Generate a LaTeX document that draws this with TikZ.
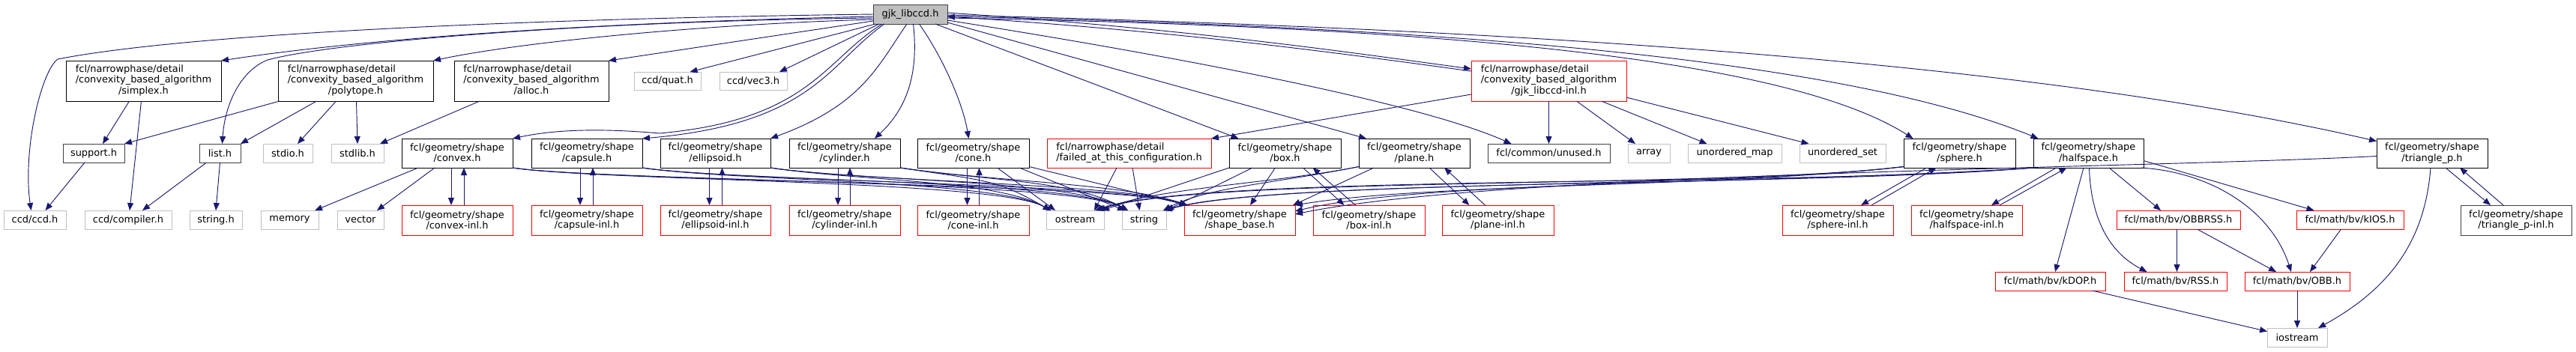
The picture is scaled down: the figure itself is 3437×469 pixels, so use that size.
\documentclass[tikz,border=0pt]{standalone}
\usepackage{fontspec}
\setmainfont{DejaVu Sans}
\usetikzlibrary{arrows.meta,calc}
\definecolor{edgeblue}{HTML}{191970}
\definecolor{extgray}{HTML}{BFBFBF}
\definecolor{rootgray}{HTML}{BFBFBF}
\definecolor{darkline}{HTML}{404040}
\definecolor{boxred}{HTML}{FF0000}
\newcommand\bx[7]{\node[#1,minimum width={(#5-#3)*0.75pt},minimum height={(#6-#4)*0.75pt}] (#2) at ({(#3+#5)/2},{(#4+#6)/2}) {#7};}
\newcommand\tlab[3]{\begin{tabular}{@{}l@{}}#1\\#2\\\multicolumn{1}{@{}c@{}}{#3}\end{tabular}}
\tikzset{
  base/.style={rectangle, inner sep=0pt, outer sep=0pt, line width=0.7pt,
    font=\fontsize{9.7}{10.75}\selectfont, align=center, text=black},
  doc/.style={base, draw=black},
  docg/.style={base, draw=darkline},
  ext/.style={base, draw=extgray},
  trunc/.style={base, draw=boxred},
  rootbox/.style={base, draw=darkline, fill=rootgray},
  dep/.style={draw=edgeblue, line width=0.7pt, -{Triangle[length=7.5pt,width=6pt]}},
}
\begin{document}
\begin{tikzpicture}[x=0.75pt,y=-0.75pt]
\useasboundingbox (0,0) rectangle (3437,469);
% ---------- nodes ----------
\bx{rootbox}{gjk}{1165}{6}{1264}{32}{gjk\_libccd.h}
\bx{doc}{simplex}{88}{81}{295}{135}{\tlab{fcl/narrowphase/detail}{/convexity\_based\_algorithm}{/simplex.h}}
\bx{doc}{polytope}{371}{81}{578}{135}{\tlab{fcl/narrowphase/detail}{/convexity\_based\_algorithm}{/polytope.h}}
\bx{doc}{alloc}{606}{81}{812}{135}{\tlab{fcl/narrowphase/detail}{/convexity\_based\_algorithm}{/alloc.h}}
\bx{ext}{quat}{846}{96}{935}{120}{ccd/quat.h}
\bx{ext}{vec3}{960}{96}{1050}{120}{ccd/vec3.h}
\bx{trunc}{gjkinl}{1963}{81}{2170}{135}{\tlab{fcl/narrowphase/detail}{/convexity\_based\_algorithm}{/gjk\_libccd-inl.h}}
\bx{docg}{support}{84}{192}{166}{217}{support.h}
\bx{docg}{list}{266}{192}{321}{217}{list.h}
\bx{ext}{stdio}{351}{192}{417}{217}{stdio.h}
\bx{ext}{stdlib}{442}{192}{512}{217}{stdlib.h}
\bx{docg}{unused}{1985}{192}{2148}{217}{fcl/common/unused.h}
\bx{ext}{array}{2172}{192}{2228}{217}{array}
\bx{ext}{umap}{2252}{192}{2377}{217}{unordered\_map}
\bx{ext}{uset}{2401}{192}{2516}{217}{unordered\_set}
\bx{doc}{convex}{536}{185}{684}{224}{fcl/geometry/shape\\/convex.h}
\bx{doc}{capsule}{709}{185}{857}{224}{fcl/geometry/shape\\/capsule.h}
\bx{doc}{ellipsoid}{881}{185}{1028}{224}{fcl/geometry/shape\\/ellipsoid.h}
\bx{doc}{cylinder}{1053}{185}{1201}{224}{fcl/geometry/shape\\/cylinder.h}
\bx{doc}{cone}{1224}{185}{1373}{224}{fcl/geometry/shape\\/cone.h}
\bx{trunc}{failed}{1397}{185}{1616}{224}{\begin{tabular}{@{}l@{}}fcl/narrowphase/detail\\/failed\_at\_this\_configuration.h\end{tabular}}
\bx{doc}{box}{1640}{185}{1789}{224}{fcl/geometry/shape\\/box.h}
\bx{doc}{plane}{1813}{185}{1961}{224}{fcl/geometry/shape\\/plane.h}
\bx{doc}{sphere}{2540}{185}{2689}{224}{fcl/geometry/shape\\/sphere.h}
\bx{doc}{halfspace}{2713}{185}{2860}{224}{fcl/geometry/shape\\/halfspace.h}
\bx{doc}{triangle}{3171}{185}{3319}{224}{fcl/geometry/shape\\/triangle\_p.h}
\bx{ext}{ccdh}{5}{281}{88}{306}{ccd/ccd.h}
\bx{ext}{compiler}{113}{281}{229}{306}{ccd/compiler.h}
\bx{ext}{stringh}{253}{281}{323}{306}{string.h}
\bx{ext}{memory}{348}{281}{425}{306}{memory}
\bx{ext}{vector}{450}{281}{512}{306}{vector}
\bx{trunc}{convexinl}{536}{274}{684}{314}{fcl/geometry/shape\\/convex-inl.h}
\bx{trunc}{capsuleinl}{709}{274}{857}{314}{fcl/geometry/shape\\/capsule-inl.h}
\bx{trunc}{ellipsoidinl}{881}{274}{1028}{314}{fcl/geometry/shape\\/ellipsoid-inl.h}
\bx{trunc}{cylinderinl}{1053}{274}{1201}{314}{fcl/geometry/shape\\/cylinder-inl.h}
\bx{trunc}{coneinl}{1224}{274}{1373}{314}{fcl/geometry/shape\\/cone-inl.h}
\bx{ext}{ostream}{1396}{281}{1473}{306}{ostream}
\bx{ext}{string}{1497}{281}{1556}{306}{string}
\bx{trunc}{shapebase}{1580}{274}{1728}{314}{fcl/geometry/shape\\/shape\_base.h}
\bx{trunc}{boxinl}{1752}{274}{1901}{314}{fcl/geometry/shape\\/box-inl.h}
\bx{trunc}{planeinl}{1924}{274}{2073}{314}{fcl/geometry/shape\\/plane-inl.h}
\bx{trunc}{sphereinl}{2378}{274}{2526}{314}{fcl/geometry/shape\\/sphere-inl.h}
\bx{trunc}{halfspaceinl}{2550}{274}{2698}{314}{fcl/geometry/shape\\/halfspace-inl.h}
\bx{trunc}{obbrss}{2824}{281}{2989}{306}{fcl/math/bv/OBBRSS.h}
\bx{trunc}{kios}{3064}{281}{3207}{306}{fcl/math/bv/kIOS.h}
\bx{docg}{triinl}{3283}{274}{3431}{314}{fcl/geometry/shape\\/triangle\_p-inl.h}
\bx{trunc}{kdop}{2662}{363}{2809}{388}{fcl/math/bv/kDOP.h}
\bx{trunc}{rss}{2834}{363}{2971}{388}{fcl/math/bv/RSS.h}
\bx{trunc}{obb}{2995}{363}{3135}{388}{fcl/math/bv/OBB.h}
\bx{ext}{iostream}{3025}{438}{3105}{463}{iostream}
% ---------- edges from gjk_libccd.h ----------
\draw[dep] (gjk.west) .. controls (700,25) and (250,45) .. (77,79) .. controls (55,95) and (30,200) .. ($(ccdh.north)+(-5,0)$);
\draw[dep] ($(gjk.west)+(0,3)$) .. controls (800,30) and (500,50) .. (simplex.north east);
\draw[dep] ($(gjk.west)+(0,5)$) .. controls (800,28) and (450,55) .. (357,80) .. controls (320,95) and (300,140) .. ($(list.north)+(3,0)$);
\draw[dep] ($(gjk.west)+(0,7)$) .. controls (950,32) and (700,55) .. (polytope.north east);
\draw[dep] ($(gjk.west)+(0,9)$) -- (alloc.north east);
\draw[dep] ($(gjk.south west)+(3,0)$) -- ($(quat.north)+(30,0)$);
\draw[dep] ($(gjk.south west)+(8,0)$) -- ($(vec3.north)+(35,0)$);
\draw[dep] ($(gjk.south west)+(12,0)$) .. controls (1100,80) and (1080,160) .. (880,178) .. controls (800,171) and (740,173) .. (convex.north east);
\draw[dep] ($(gjk.south west)+(15,0)$) .. controls (1105,85) and (1085,165) .. (capsule.north east);
\draw[dep] ($(gjk.south west)+(45,0)$) .. controls (1170,90) and (1150,140) .. (ellipsoid.north east);
\draw[dep] ($(gjk.south)+(4,0)$) .. controls (1225,90) and (1215,140) .. ($(cylinder.north)+(40,0)$);
\draw[dep] ($(gjk.south)+(12,0)$) .. controls (1260,80) and (1285,140) .. ($(cone.north)+(-6,0)$);
\draw[dep] ($(gjk.south east)+(-16,0)$) -- ($(box.north)+(-62,0)$);
\draw[dep] ($(gjk.east)+(0,11)$) -- ($(plane.north)+(-64,0)$);
\draw[dep] ($(gjk.east)+(0,8)$) .. controls (1600,80) and (1900,140) .. ($(unused.north)+(-50,0)$);
\draw[dep] ($(gjk.east)+(0,-2)$) .. controls (1600,40) and (1800,70) .. ($(gjkinl.west)+(0,-16)$);
\draw[dep] ($(gjk.east)+(0,5)$) .. controls (1900,35) and (2380,75) .. ($(sphere.north)+(-62,0)$);
\draw[dep] ($(gjk.east)+(0,3)$) .. controls (1900,35) and (2450,75) .. ($(halfspace.north)+(-67,0)$);
\draw[dep] ($(gjk.east)+(0,1)$) .. controls (2000,38) and (2700,80) .. ($(triangle.west)+(0,-16)$);
% ---------- edges from gjk_libccd-inl.h ----------
\draw[dep] ($(gjkinl.west)+(0,-13)$) .. controls (1800,73) and (1600,44) .. ($(gjk.east)+(0,3)$);
\draw[dep] ($(gjkinl.west)+(0,18)$) -- (failed.north east);
\draw[dep] (gjkinl.south) -- (unused.north);
\draw[dep] ($(gjkinl.south)+(37,0)$) -- ($(array.north)+(-18,0)$);
\draw[dep] ($(gjkinl.south)+(70,0)$) -- ($(umap.north)+(-37,0)$);
\draw[dep] ($(gjkinl.east)+(0,22)$) -- ($(uset.north)+(-45,0)$);
% ---------- libccd helpers ----------
\draw[dep] ($(simplex.south)+(-19,0)$) -- ($(support.north)+(12,0)$);
\draw[dep] ($(simplex.south)+(-3,0)$) -- ($(compiler.north)+(2,0)$);
\draw[dep] ($(polytope.south west)+(2,0)$) -- (support.north east);
\draw[dep] ($(polytope.south)+(-52,0)$) -- (list.north east);
\draw[dep] ($(polytope.south)+(-26,0)$) -- ($(stdio.north)+(13,0)$);
\draw[dep] ($(polytope.south)+(1,0)$) -- (stdlib.north);
\draw[dep] ($(alloc.south west)+(34,0)$) -- ($(stdlib.north east)+(-5,0)$);
\draw[dep] ($(support.south)+(-12,0)$) -- ($(ccdh.north)+(14,0)$);
\draw[dep] ($(list.south)+(-18,0)$) -- ($(compiler.north)+(19,0)$);
\draw[dep] (list.south) -- (stringh.north);
% ---------- convex ----------
\draw[dep] ($(convex.south west)+(22,0)$) -- ($(memory.north east)+(-5,0)$);
\draw[dep] ($(convex.south)+(-30,0)$) -- ($(vector.north)+(22,0)$);
% ---------- shape <-> inl pairs ----------
\draw[dep] ($(convex.south)+(-8,0)$) -- ($(convexinl.north)+(-8,0)$);
\draw[dep] ($(convexinl.north)+(9,0)$) -- ($(convex.south)+(9,0)$);
\draw[dep] ($(capsule.south)+(-9,0)$) -- ($(capsuleinl.north)+(-9,0)$);
\draw[dep] ($(capsuleinl.north)+(8,0)$) -- ($(capsule.south)+(8,0)$);
\draw[dep] ($(ellipsoid.south)+(-8,0)$) -- ($(ellipsoidinl.north)+(-8,0)$);
\draw[dep] ($(ellipsoidinl.north)+(9,0)$) -- ($(ellipsoid.south)+(9,0)$);
\draw[dep] ($(cylinder.south)+(-9,0)$) -- ($(cylinderinl.north)+(-9,0)$);
\draw[dep] ($(cylinderinl.north)+(7,0)$) -- ($(cylinder.south)+(7,0)$);
\draw[dep] ($(cone.south)+(-8,0)$) -- ($(coneinl.north)+(-8,0)$);
\draw[dep] ($(coneinl.north)+(8,0)$) -- ($(cone.south)+(8,0)$);
\draw[dep] ($(box.south)+(24,0)$) -- ($(boxinl.north)+(-33,0)$);
\draw[dep] ($(boxinl.north)+(-18,0)$) -- ($(box.south)+(37,0)$);
\draw[dep] ($(plane.south)+(20,0)$) -- ($(planeinl.north)+(-38,0)$);
\draw[dep] ($(planeinl.north)+(-17,0)$) -- ($(plane.south)+(40,0)$);
\draw[dep] ($(sphere.south)+(-44,0)$) -- ($(sphereinl.north)+(31,0)$);
\draw[dep] ($(sphereinl.north)+(45,0)$) -- ($(sphere.south)+(-31,0)$);
\draw[dep] ($(halfspace.south)+(-43,0)$) -- ($(halfspaceinl.north)+(33,0)$);
\draw[dep] ($(halfspaceinl.north)+(44,0)$) -- ($(halfspace.south)+(-29,0)$);
\draw[dep] ($(triangle.south)+(18,0)$) -- ($(triinl.north)+(-34,0)$);
\draw[dep] ($(triinl.north)+(-17,0)$) -- ($(triangle.south)+(37,0)$);
% ---------- shapes -> ostream / string / shape_base (left group) ----------
\foreach \s in {convex,capsule,ellipsoid,cylinder}{
  \draw[dep] (\s.south east) .. controls ($(\s.south east)+(120,18)$) and (1330,240) .. ($(ostream.north west)+(6,0)$);
  \draw[dep] (\s.south east) .. controls ($(\s.south east)+(120,18)$) and (1430,240) .. ($(string.north west)+(8,0)$);
  \draw[dep] (\s.south east) .. controls ($(\s.south east)+(120,18)$) and (1500,245) .. ($(shapebase.north west)+(4,0)$);
}
\draw[dep] ($(cone.south)+(32,0)$) -- ($(ostream.north west)+(12,0)$);
\draw[dep] ($(cone.south east)+(-13,0)$) -- ($(string.north west)+(4,0)$);
\draw[dep] ($(cone.east)+(0,18)$) -- ($(shapebase.north west)+(4,0)$);
\draw[dep] ($(failed.south)+(-16.5,0)$) -- ($(ostream.north east)+(-13,0)$);
\draw[dep] ($(failed.south)+(4.5,0)$) -- ($(string.north)+(-6,0)$);
% ---------- shapes -> ostream / string / shape_base (right group) ----------
\draw[dep] (box.south west) -- ($(ostream.north east)+(-3,0)$);
\draw[dep] ($(box.south west)+(31,0)$) -- (string.north east);
\draw[dep] ($(box.south)+(-13,0)$) -- ($(shapebase.north)+(14,0)$);
\draw[dep] ($(plane.south west)+(20,0)$) -- ($(shapebase.north east)+(-3,0)$);
\draw[dep] ($(plane.west)+(0,18)$) .. controls (1700,245) and (1550,250) .. ($(ostream.north east)+(-8,0)$);
\draw[dep] ($(plane.west)+(0,18)$) .. controls (1700,245) and (1610,250) .. ($(string.north east)+(-4,0)$);
\draw[dep] ($(sphere.west)+(0,18)$) .. controls (2300,250) and (1900,245) .. (shapebase.north east);
\draw[dep] ($(sphere.west)+(0,18)$) .. controls (2300,252) and (1700,240) .. ($(string.north east)+(-2,0)$);
\draw[dep] ($(sphere.west)+(0,18)$) .. controls (2300,252) and (1600,235) .. ($(ostream.north east)+(-10,0)$);
\draw[dep] (halfspace.south west) .. controls (2400,245) and (1900,240) .. ($(shapebase.east)+(0,-12)$);
\draw[dep] (halfspace.south west) .. controls (2400,250) and (1700,238) .. ($(string.north east)+(-4,0)$);
\draw[dep] (halfspace.south west) .. controls (2400,250) and (1600,232) .. ($(ostream.north east)+(-12,0)$);
\draw[dep] ($(triangle.west)+(0,4)$) .. controls (2850,225) and (2000,230) .. ($(shapebase.east)+(0,-8)$);
% ---------- bounding volumes ----------
\draw[dep] ($(halfspace.south)+(-6.5,0)$) -- ($(kdop.north)+(6.5,0)$);
\draw[dep] ($(halfspace.south)+(1,0)$) .. controls (2790,300) and (2820,340) .. ($(rss.north)+(-38,0)$);
\draw[dep] ($(halfspace.south)+(27.5,0)$) -- ($(obbrss.north)+(-23.5,0)$);
\draw[dep] ($(halfspace.east)+(0,10)$) -- ($(kios.north)+(-48,0)$);
\draw[dep] ($(halfspace.south east)+(-3,0)$) .. controls (2950,230) and (3030,280) .. ($(obb.north)+(-8,0)$);
\draw[dep] ($(obbrss.south)+(-2,0)$) -- ($(rss.north)+(2,0)$);
\draw[dep] ($(obbrss.south)+(25,0)$) -- ($(obb.north)+(-28,0)$);
\draw[dep] ($(kios.south)+(-12,0)$) -- ($(obb.north)+(17,0)$);
\draw[dep] (obb.south) -- (iostream.north);
\draw[dep] ($(kdop.south)+(56,0)$) -- ($(iostream.west)+(0,-8)$);
\draw[dep] ($(triangle.south)+(-2,0)$) .. controls (3235,330) and (3180,390) .. ($(iostream.north east)+(-12,0)$);
\end{tikzpicture}
\end{document}
